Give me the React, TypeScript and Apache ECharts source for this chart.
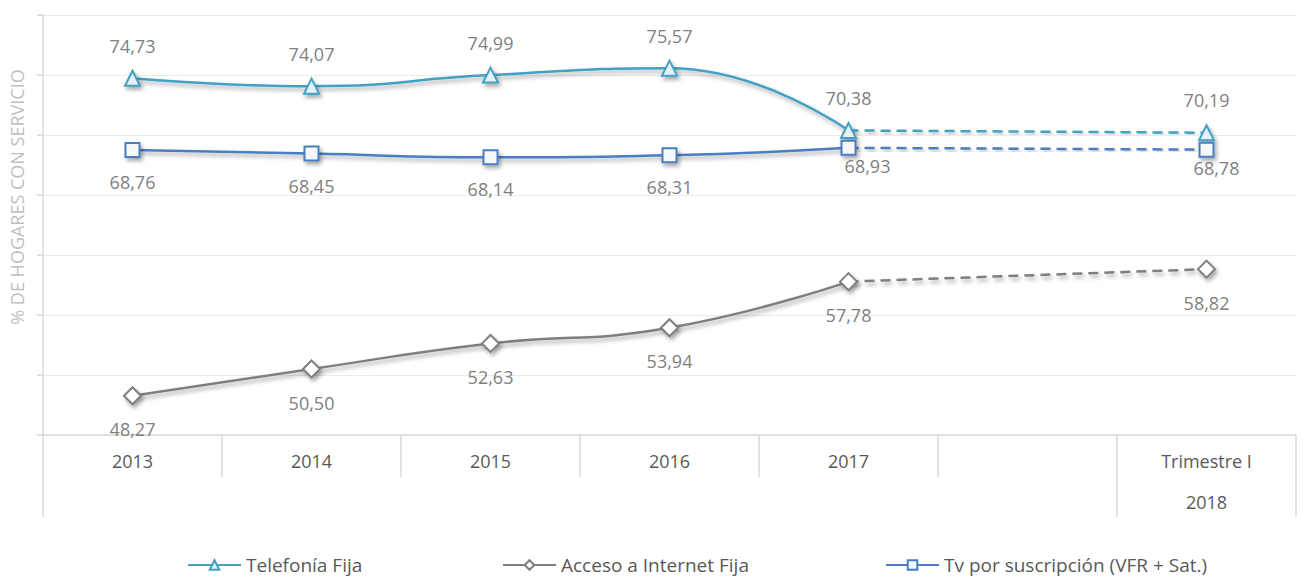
import React, { useEffect, useRef } from "react";
import * as echarts from "echarts";

const categories = ["2013", "2014", "2015", "2016", "2017", "", "Trimestre I"];
const yearRow = ["", "", "", "", "", "", "2018"];
const telefonia = [74.73, 74.07, 74.99, 75.57, 70.38, null, 70.19];
const internet = [48.27, 50.5, 52.63, 53.94, 57.78, null, 58.82];
const tv = [68.76, 68.45, 68.14, 68.31, 68.93, null, 68.78];
const yTitle = "% DE HOGARES CON SERVICIO";

const FONT = "'Open Sans', 'Liberation Sans', sans-serif";
const LAST_SOLID = 4;
const LAST = 6;

const fmt = (v: number) => v.toFixed(2).replace(".", ",");

function buildSeries(
  name: string,
  values: (number | null)[],
  color: string,
  symbol: string,
  symbolSize: number,
  fill: string,
  labelPos: "top" | "bottom",
  labelTweaks: Record<number, any> = {}
) {
  const shadow = {
    shadowColor: "rgba(0,0,0,0.35)",
    shadowBlur: 4,
    shadowOffsetX: 2,
    shadowOffsetY: 3,
  };
  const baseLabel = {
    show: true,
    position: labelPos,
    distance: 15,
    color: "#7f7f7f",
    fontFamily: FONT,
    fontSize: 18,
    formatter: (p: any) => fmt(p.value),
  };
  const item = (v: number, i: number) =>
    labelTweaks[i] ? { value: v, label: labelTweaks[i] } : v;
  const solidData = values.map((v, i) => (i <= LAST_SOLID && v != null ? item(v, i) : null));
  const dashedData = values.map((v, i) => {
    if (v == null) return null;
    if (i === LAST_SOLID) return { value: v, symbol: "none", label: { show: false } };
    if (i > LAST_SOLID) return item(v, i);
    return null;
  });
  const common = {
    type: "line",
    symbol,
    symbolSize,
    animation: false,
    emphasis: { disabled: true },
    itemStyle: { color: fill, borderColor: color, borderWidth: 2, ...shadow },
    label: baseLabel,
    z: 3,
  };
  return [
    {
      ...common,
      name,
      data: solidData,
      smooth: 0.5,
      lineStyle: { color, width: 2.5, ...shadow },
    },
    {
      ...common,
      name: name + " (proy.)",
      data: dashedData,
      connectNulls: true,
      smooth: false,
      lineStyle: { color, width: 2.5, type: [10, 6], ...shadow },
    },
  ];
}

export default function App() {
  const ref = useRef<HTMLDivElement>(null);
  useEffect(() => {
    document.body.style.margin = "0";
    if (!ref.current) return;
    const chart = echarts.init(ref.current, null, { renderer: "svg" });
    const series = [
      ...buildSeries("Telefonía Fija", telefonia, "#43A0C2", "triangle", 15, "#e2f2f8", "top"),
      ...buildSeries("Acceso a Internet Fija", internet, "#7f7f7f", "diamond", 17, "#ffffff", "bottom", {}),
      ...buildSeries("Tv por suscripción (VFR + Sat.)", tv, "#4A7EBF", "rect", 14, "#f4f7fc", "bottom", {
        4: { distance: 1, offset: [19, 0] },
        6: { distance: 1, offset: [10, 0] },
      }),
    ];
    const legendBase = {
      top: 555,
      padding: 0,
      itemWidth: 53,
      itemHeight: 12,
      textStyle: { color: "#595959", fontFamily: FONT, fontSize: 19, lineHeight: 20 },
      selectedMode: false,
    };
    chart.setOption({
      animation: false,
      grid: { left: 43, right: 7, top: 15, bottom: 142, containLabel: false },
      xAxis: [
        {
          type: "category",
          data: categories,
          boundaryGap: true,
          position: "bottom",
          axisLine: { show: true, lineStyle: { color: "#d9d9d9", width: 1.5 } },
          axisTick: { show: true, interval: 0, length: 42, lineStyle: { color: "#d9d9d9", width: 1.5 } },
          axisLabel: { interval: 0, margin: 17, color: "#595959", fontFamily: FONT, fontSize: 18 },
          splitLine: { show: false },
        },
        {
          type: "category",
          data: yearRow,
          boundaryGap: true,
          position: "bottom",
          offset: 42,
          axisLine: { show: false },
          axisTick: {
            show: true,
            interval: (i: number) => i === 0 || i === LAST,
            length: 40,
            lineStyle: { color: "#d9d9d9", width: 1.5 },
          },
          axisLabel: { interval: 0, margin: 16, color: "#595959", fontFamily: FONT, fontSize: 18 },
          splitLine: { show: false },
        },
      ],
      yAxis: {
        type: "value",
        min: 45,
        max: 80,
        interval: 5,
        axisLabel: { show: false },
        axisLine: { show: true, lineStyle: { color: "#d9d9d9", width: 1.5 } },
        axisTick: { show: true, length: 6, lineStyle: { color: "#d9d9d9", width: 1.5 } },
        splitLine: { show: true, lineStyle: { color: "#ebebeb", width: 1.2 } },
      },
      legend: [
        { ...legendBase, left: 187, data: ["Telefonía Fija"] },
        { ...legendBase, left: 502, data: ["Acceso a Internet Fija"] },
        { ...legendBase, left: 885, data: ["Tv por suscripción (VFR + Sat.)"] },
      ],
      graphic: [
        {
          type: "text",
          x: 17,
          y: 197,
          rotation: Math.PI / 2,
          style: {
            text: yTitle,
            fill: "#bfbfbf",
            font: `18px ${FONT}`,
            align: "center",
            verticalAlign: "middle",
          },
        },
      ],
      series,
    });
    return () => chart.dispose();
  }, []);
  return <div ref={ref} style={{ width: 1303, height: 577 }} />;
}
